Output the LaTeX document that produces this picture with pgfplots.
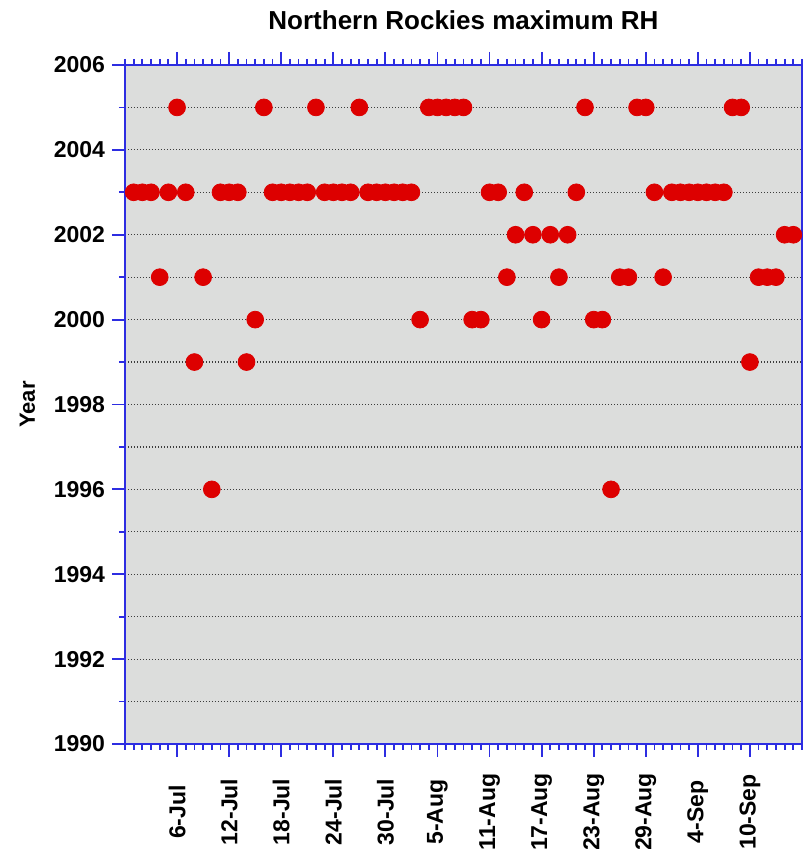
\documentclass[border=0pt]{standalone}
\usepackage{fontspec}
\setmainfont{Liberation Sans}
\usepackage{pgfplots}
\usepackage{pgfplotstable}
\pgfplotsset{compat=1.18}
\definecolor{bggray}{RGB}{220,221,220}
\definecolor{dotred}{RGB}{221,0,0}
\definecolor{axblue}{RGB}{45,45,225}
\definecolor{gridc}{RGB}{60,60,60}
\pgfplotstableread{
day year
6 2005
16 2005
22 2005
27 2005
35 2005
36 2005
37 2005
38 2005
39 2005
53 2005
59 2005
60 2005
70 2005
71 2005
1 2003
2 2003
3 2003
5 2003
7 2003
11 2003
12 2003
13 2003
17 2003
18 2003
19 2003
20 2003
21 2003
23 2003
24 2003
25 2003
26 2003
28 2003
29 2003
30 2003
31 2003
32 2003
33 2003
42 2003
43 2003
46 2003
52 2003
61 2003
63 2003
64 2003
65 2003
66 2003
67 2003
68 2003
69 2003
45 2002
47 2002
49 2002
51 2002
76 2002
77 2002
4 2001
9 2001
44 2001
50 2001
57 2001
58 2001
62 2001
73 2001
74 2001
75 2001
15 2000
34 2000
40 2000
41 2000
48 2000
54 2000
55 2000
8 1999
14 1999
72 1999
10 1996
56 1996
}\rhdata
\begin{document}
\begin{tikzpicture}
\useasboundingbox (-62.5pt,-52.5pt) rectangle (339pt,372pt);
\begin{axis}[
  at={(0,0)}, anchor=south west,
  width=338.5pt, height=339.5pt, scale only axis,
  xmin=0, xmax=78, ymin=1990, ymax=2006,
  axis background/.style={fill=bggray},
  axis line style={draw=axblue, line width=1.1pt},
  every tick/.style={draw=axblue, line width=0.9pt},
  tick align=outside,
  xtick pos=both, ytick pos=left,
  xtick={6,12,...,72},
  xticklabels={6-Jul,12-Jul,18-Jul,24-Jul,30-Jul,5-Aug,11-Aug,17-Aug,23-Aug,29-Aug,4-Sep,10-Sep},
  minor xtick={0,1,...,78},
  ytick={1990,1992,...,2006},
  minor ytick={1991,1993,...,2005},
  major tick length=6.5pt, minor tick length=3pt,
  ymajorgrids, yminorgrids,
  major grid style={draw=gridc, line width=0.6pt, dash pattern=on 0.6pt off 0.9pt},
  minor grid style={draw=gridc, line width=0.6pt, dash pattern=on 0.6pt off 0.9pt},
  /pgf/number format/1000 sep={},
  /pgf/number format/assume math mode=true,
  yticklabel style={font=\bfseries\fontsize{11.5}{13}\selectfont},
  xticklabel style={font=\bfseries\fontsize{11.5}{13}\selectfont, rotate=90, anchor=center, xshift=-27.5pt},
  title={Northern Rockies maximum RH},
  title style={font=\bfseries\fontsize{13}{15}\selectfont, yshift=8pt},
  ylabel={Year},
  ylabel style={font=\bfseries\fontsize{11}{13}\selectfont, yshift=2.5pt},
]
\addplot[only marks, mark=*, mark size=4.2pt, draw=dotred, fill=dotred, mark options={draw=dotred, fill=dotred}] table[x=day, y=year] {\rhdata};
\end{axis}
\end{tikzpicture}
\end{document}
